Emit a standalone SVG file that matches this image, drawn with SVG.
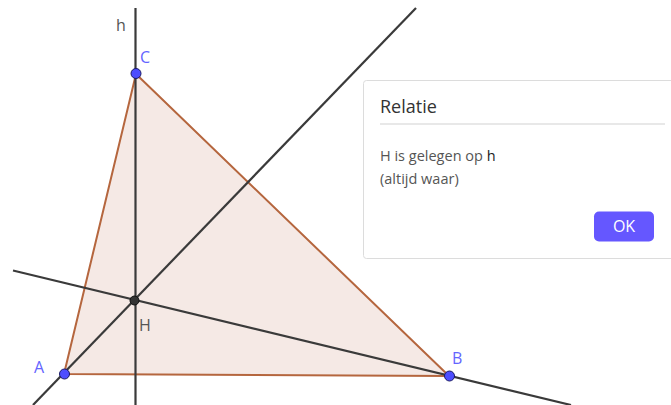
<svg xmlns="http://www.w3.org/2000/svg" width="671" height="405" viewBox="0 0 671 405">
<style>
.ln{stroke:#3a3a3a;stroke-width:2.2;fill:none}
.tri{fill:#f3e4de;fill-opacity:0.8;stroke:#b5663e;stroke-width:2;stroke-linejoin:round}
.pt{fill:#4d4dff;stroke:#1a1a66;stroke-width:1}
.lbl{font-family:"Open Sans","Liberation Sans",sans-serif;font-size:16px}
.blue{fill:#6464ff}
.grey{fill:#555}
.dlg{font-family:"Open Sans","Liberation Sans",sans-serif}
</style>
<rect width="671" height="405" fill="#fff"/>
<g id="triangle"><polygon class="tri" points="64,374 449,376 136,74"/></g>
<g id="connectors">
<line id="h" class="ln" x1="135.5" y1="8" x2="135.5" y2="405"/>
<line id="altA" class="ln" x1="33" y1="405" x2="416" y2="8"/>
<line id="altB" class="ln" x1="13" y1="270.5" x2="571" y2="405"/>
</g>
<g id="H"><circle cx="134.5" cy="300.5" r="4.5" fill="#333" stroke="#111" stroke-width="1"/><text class="lbl grey" x="139" y="331">H</text></g>
<g id="A"><circle class="pt" cx="64.5" cy="374" r="5"/><text class="lbl blue" x="34" y="373">A</text></g>
<g id="B"><circle class="pt" cx="449.5" cy="376" r="5"/><text class="lbl blue" x="452" y="364">B</text></g>
<g id="C"><circle class="pt" cx="136" cy="73.5" r="5"/><text class="lbl blue" x="140" y="63">C</text></g>
<g id="hlabel"><text class="lbl grey" x="116" y="31">h</text></g>
<g id="dialog">
<rect x="363.5" y="80.5" width="320" height="178" rx="3" fill="#fff" stroke="#dcdcdc" stroke-width="1"/>
<text class="dlg" x="380" y="113" font-size="18" fill="#333">Relatie</text>
<line x1="380" y1="124" x2="665" y2="124" stroke="#e0e0e0" stroke-width="1.5"/>
<text class="dlg" x="380" y="161" font-size="14.5" fill="#555">H is gelegen op <tspan fill="#222">h</tspan></text>
<text class="dlg" x="380" y="184" font-size="14.5" fill="#555">(altijd waar)</text>
<rect x="594" y="211.5" width="60" height="30" rx="5" fill="#6557ff"/>
<text class="dlg" x="624" y="232" font-size="16" fill="#fff" text-anchor="middle">OK</text>
</g>
</svg>
